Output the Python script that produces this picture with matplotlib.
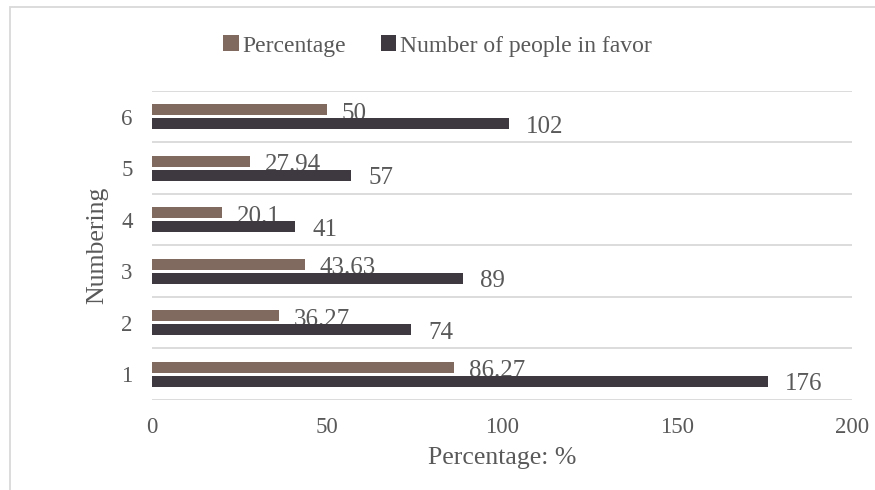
import numpy as np
import matplotlib
matplotlib.use('Agg')
import matplotlib.pyplot as plt
from matplotlib.patches import Rectangle

plt.rcParams['font.family'] = ['Liberation Serif', 'DejaVu Serif']

# data
categories = ['1', '2', '3', '4', '5', '6']
percentage = [86.27, 36.27, 43.63, 20.1, 27.94, 50]
in_favor = [176, 74, 89, 41, 57, 102]
pct_labels = ['86.27', '36.27', '43.63', '20.1', '27.94', '50']
favor_labels = ['176', '74', '89', '41', '57', '102']
xticks = [0, 50, 100, 150, 200]

c_pct = '#806a5f'
c_num = '#3e3840'
c_txt = '#595959'
c_grid = '#d9d9d9'
fs_tick = 16.5
fs_lab = 18.5
fs_leg = 17
fs_dat = 18

fig = plt.figure(figsize=(8.75, 4.9), dpi=100)
ax = fig.add_axes([0.1737, 0.1837, 0.8, 0.6306])

y = np.arange(len(categories))
h = 0.214
off = 0.136

b1 = ax.barh(y + off, percentage, height=h, color=c_pct, zorder=2,
             label='Percentage')
b2 = ax.barh(y - off, in_favor, height=h, color=c_num, zorder=4,
             label='Number of people in favor')

for i in range(len(categories)):
    ax.annotate(pct_labels[i], (percentage[i], y[i] + off), xytext=(15, -4),
                textcoords='offset pixels', va='center', ha='left',
                fontsize=fs_dat, color=c_txt, zorder=3)
    ax.annotate(favor_labels[i], (in_favor[i], y[i] - off), xytext=(17, -3),
                textcoords='offset pixels', va='center', ha='left',
                fontsize=fs_dat, color=c_txt, zorder=5)

ax.set_xlim(0, 200)
ax.set_ylim(-0.5, 5.5)
ax.set_xticks(xticks)
ax.set_xticklabels([str(t) for t in xticks])
ax.set_yticks(y)
ax.set_yticklabels(categories)
ax.set_yticks(np.arange(-0.5, 6, 1), minor=True)
ax.tick_params(axis='both', which='both', length=0, labelsize=fs_tick,
               labelcolor=c_txt)
ax.tick_params(axis='x', pad=12)
ax.tick_params(axis='y', pad=14)
ax.grid(axis='y', which='minor', color=c_grid, linewidth=1.3, zorder=0)
ax.grid(axis='y', which='major', visible=False)
for s in ax.spines.values():
    s.set_visible(False)

ax.set_xlabel('Percentage: %', fontsize=fs_lab, color=c_txt, labelpad=7)
ax.set_ylabel('Numbering', fontsize=fs_lab, color=c_txt, labelpad=9)

leg = fig.legend(handles=[b1, b2], loc='center', bbox_to_anchor=(0.5, 0.906),
                 ncol=2, frameon=False, fontsize=fs_leg, labelcolor=c_txt,
                 handlelength=0.65, handleheight=0.65, handletextpad=0.15,
                 columnspacing=1.5)

# chart border (left and top visible)
fig.patches.append(Rectangle((9.5 / 875, -0.1), 1.2, 1.1 - 7.5 / 490,
                             transform=fig.transFigure, fill=False,
                             edgecolor='#d9d9d9', linewidth=1.3))

fig.savefig('out.png', dpi=100)
